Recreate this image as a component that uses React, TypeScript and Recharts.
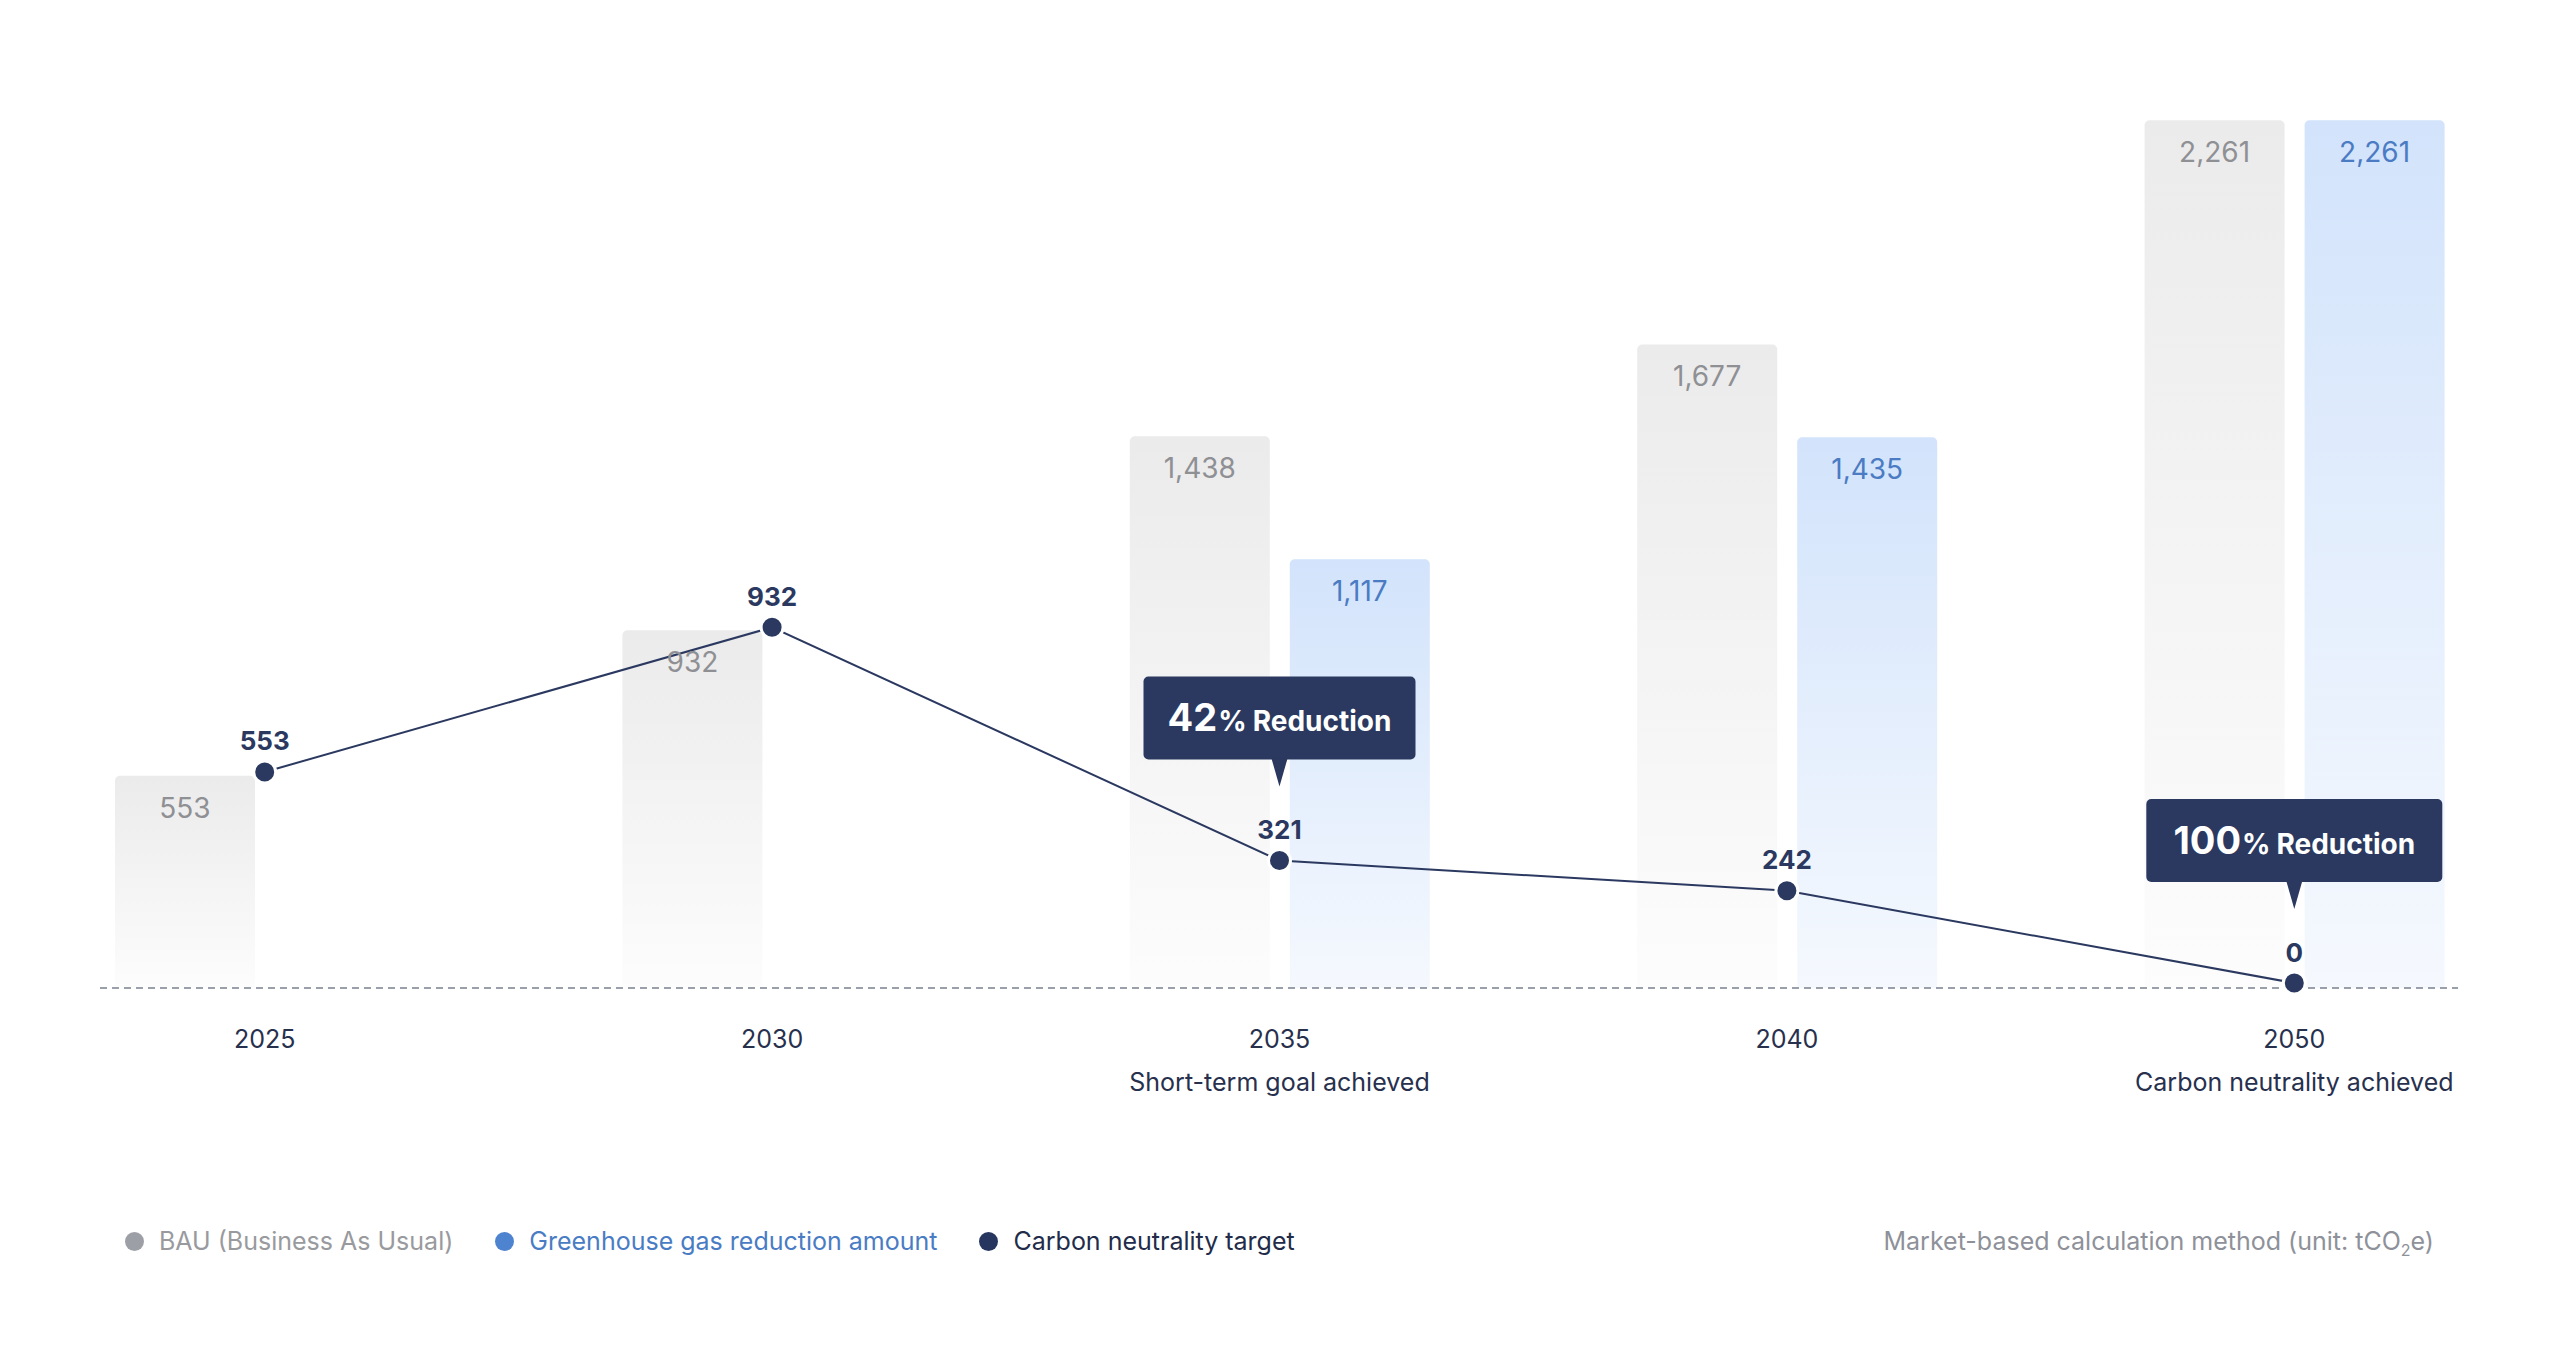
import type { FC } from 'react';
import {
  ComposedChart,
  Bar,
  Line,
  XAxis,
  YAxis,
  LabelList,
  ReferenceLine,
} from 'recharts';

const years = ['2025', '2030', '2035', '2040', '2050'];
const milestones = ['', '', 'Short-term goal achieved', '', 'Carbon neutrality achieved'];
const bauValues = [553, 932, 1438, 1677, 2261];
const reductionValues: (number | null)[] = [null, null, 1117, 1435, 2261];
const targetValues = [553, 932, 321, 242, 0];
const reductionPct: (number | null)[] = [null, null, 42, null, 100];

const NAVY = '#2b3960';
const TEXT = '#27304d';

const data = years.map((year, i) => ({
  year,
  bau: bauValues[i],
  reduction: reductionValues[i],
  target: targetValues[i],
  pct: reductionPct[i],
}));

const YearTick: FC<any> = ({ x, y, payload }) => {
  const sub = milestones[years.indexOf(payload.value)];
  return (
    <g>
      <text x={x} y={y + 51} textAnchor="middle" dominantBaseline="central" fontSize={25} fill={TEXT}>
        {payload.value}
      </text>
      {sub && (
        <text x={x} y={y + 94} textAnchor="middle" dominantBaseline="central" fontSize={25} fill={TEXT}>
          {sub}
        </text>
      )}
    </g>
  );
};

const barLabel = (color: string) => (props: any) => {
  const { x, y, width, value } = props;
  if (value == null) return null;
  return (
    <text
      x={Number(x) + Number(width) / 2}
      y={Number(y) + 32}
      textAnchor="middle"
      dominantBaseline="central"
      fontSize={28}
      fill={color}
    >
      {Number(value).toLocaleString('en-US')}
    </text>
  );
};

const TargetLabel = (props: any) => {
  const { x, y, value } = props;
  if (value == null) return null;
  return (
    <text x={x} y={y - 31} textAnchor="middle" dominantBaseline="central" fontSize={26} fontWeight={700} fill={NAVY}>
      {value}
    </text>
  );
};

// speech-bubble above the dot: "42% Reduction"
const Callout = (props: any) => {
  const { x, y, value } = props;
  if (value == null) return null;
  const digits = String(value);
  const w = 224 + 24 * digits.length;
  const h = 83;
  const tipY = y - 74;
  const bottom = tipY - 27;
  const top = bottom - h;
  return (
    <g>
      <rect x={x - w / 2} y={top} width={w} height={h} rx={5} fill={NAVY} />
      <path d={`M${x - 8},${bottom - 1} L${x + 8},${bottom - 1} L${x},${tipY} Z`} fill={NAVY} />
      <text x={x} y={top + h / 2 + 13} textAnchor="middle" fill="#fff">
        <tspan fontSize={38} fontWeight={700}>{digits}</tspan>
        <tspan fontSize={28} fontWeight={700} dx={1}>%</tspan>
        <tspan fontSize={28} fontWeight={700} dx={6}>Reduction</tspan>
      </text>
    </g>
  );
};

const Baseline = (props: any) => {
  const { x1, x2, y1 } = props;
  return (
    <line x1={x1 + 89} x2={x2 - 90} y1={y1} y2={y1} stroke="#9aa0a9" strokeWidth={2} strokeDasharray="7 5" />
  );
};

const legendItems = [
  { label: 'BAU (Business As Usual)', dot: '#9c9fa6', color: '#999a9e' },
  { label: 'Greenhouse gas reduction amount', dot: '#4e83cf', color: '#4a7cc4' },
  { label: 'Carbon neutrality target', dot: '#27365f', color: '#222c4a' },
];

export default function App() {
  return (
    <div style={{ position: 'relative', width: 2544, height: 1300, fontFamily: 'Inter, sans-serif', background: '#fff' }}>
      <ComposedChart
        width={2544}
        height={1300}
        data={data}
        margin={{ top: 59, right: 4, bottom: 200, left: 3 }}
        barSize={140}
        barGap={20}
      >
        <defs>
          <linearGradient id="bauGrad" x1="0" y1="0" x2="0" y2="1">
            <stop offset="0%" stopColor="#ebebeb" stopOpacity={1} />
            <stop offset="100%" stopColor="#ebebeb" stopOpacity={0.12} />
          </linearGradient>
          <linearGradient id="redGrad" x1="0" y1="0" x2="0" y2="1">
            <stop offset="0%" stopColor="#d2e3fb" stopOpacity={1} />
            <stop offset="100%" stopColor="#d2e3fb" stopOpacity={0.22} />
          </linearGradient>
        </defs>
        <XAxis
          dataKey="year"
          axisLine={false}
          tickLine={false}
          tickSize={0}
          tickMargin={0}
          height={120}
          interval={0}
          tick={<YearTick />}
        />
        <YAxis yAxisId="bar" hide domain={[0, 2400]} />
        <YAxis yAxisId="line" hide domain={[-13, 2400]} />
        <ReferenceLine yAxisId="bar" y={0} shape={<Baseline />} />
        <Bar yAxisId="bar" dataKey="bau" fill="url(#bauGrad)" radius={[5, 5, 0, 0]} isAnimationActive={false}>
          <LabelList dataKey="bau" content={barLabel('#8f9094')} />
        </Bar>
        <Bar yAxisId="bar" dataKey="reduction" fill="url(#redGrad)" radius={[5, 5, 0, 0]} isAnimationActive={false}>
          <LabelList dataKey="reduction" content={barLabel('#4a7bc3')} />
        </Bar>
        <Line
          yAxisId="line"
          type="linear"
          dataKey="target"
          stroke={NAVY}
          strokeWidth={2}
          dot={{ r: 11, fill: NAVY, stroke: '#fff', strokeWidth: 3 }}
          activeDot={false}
          isAnimationActive={false}
        >
          <LabelList dataKey="target" content={TargetLabel} />
          <LabelList dataKey="pct" content={Callout} />
        </Line>
      </ComposedChart>

      <div
        style={{
          position: 'absolute',
          top: 1218,
          left: 117,
          display: 'flex',
          alignItems: 'center',
          gap: 42,
          fontSize: 25,
          lineHeight: '30px',
        }}
      >
        {legendItems.map((item) => (
          <div key={item.label} style={{ display: 'flex', alignItems: 'center', gap: 15, color: item.color }}>
            <span style={{ width: 19, height: 19, borderRadius: '50%', background: item.dot, display: 'inline-block' }} />
            <span>{item.label}</span>
          </div>
        ))}
      </div>
      <div
        style={{
          position: 'absolute',
          top: 1218,
          right: 2544 - 2426,
          fontSize: 25,
          lineHeight: '30px',
          color: '#8e9199',
        }}
      >
        Market-based calculation method (unit: tCO<sub style={{ fontSize: 16, lineHeight: 0 }}>2</sub>e)
      </div>
    </div>
  );
}
